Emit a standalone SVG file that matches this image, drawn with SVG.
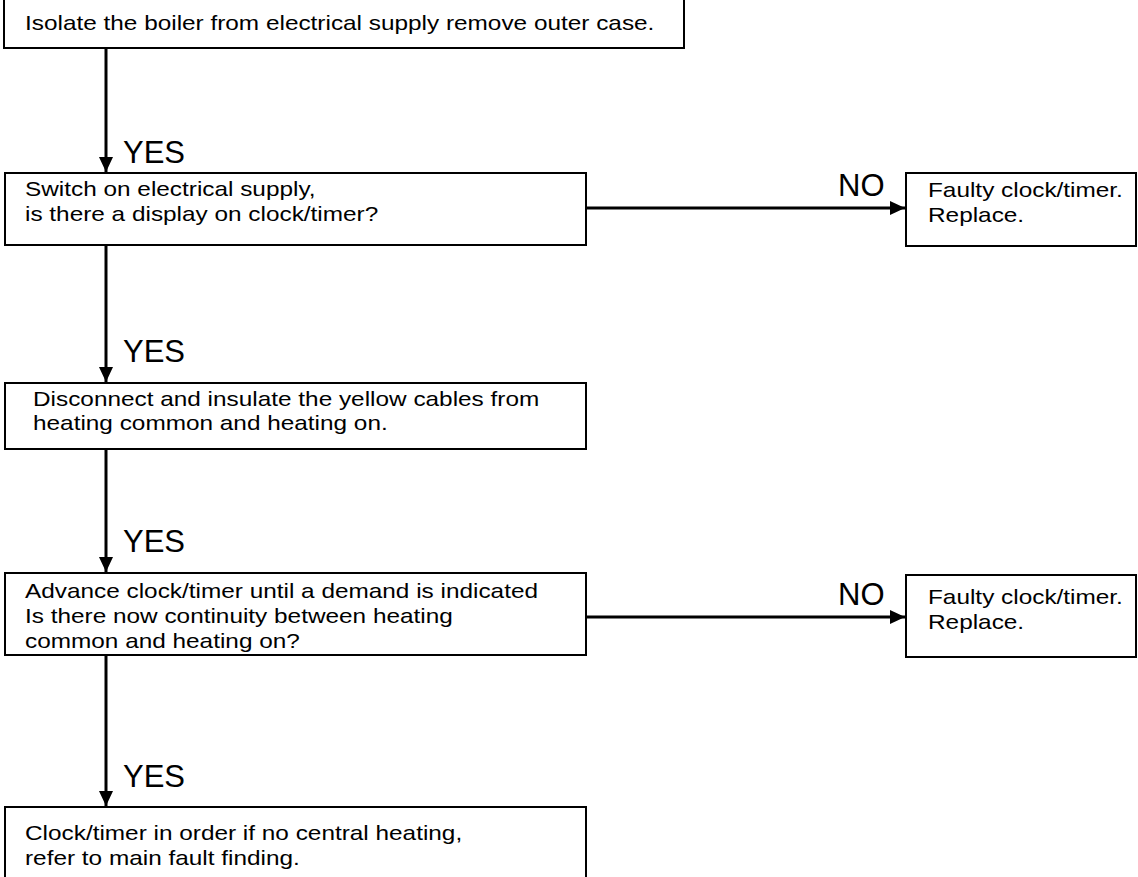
<svg xmlns="http://www.w3.org/2000/svg" width="1138" height="877" viewBox="0 0 1138 877">
<style>
.box{fill:#fff;stroke:#000;stroke-width:2}
.t{font-family:"Liberation Sans",Arial,sans-serif;font-size:21px;fill:#000}
.lbl{font-family:"Liberation Sans",Arial,sans-serif;font-size:31px;fill:#000}
.c{stroke:#000;stroke-width:3;fill:none}
</style>
<defs>
<marker id="ah" markerUnits="userSpaceOnUse" markerWidth="16" markerHeight="14" refX="15" refY="7" orient="auto">
<path d="M0,0 L15,7 L0,14 Z" fill="#000"/>
</marker>
</defs>
<rect width="1138" height="877" fill="#fff"/>
<g id="connectors">
<line class="c" x1="106" y1="48" x2="106" y2="172" marker-end="url(#ah)"/>
<line class="c" x1="106" y1="245" x2="106" y2="382" marker-end="url(#ah)"/>
<line class="c" x1="106" y1="449" x2="106" y2="572" marker-end="url(#ah)"/>
<line class="c" x1="106" y1="655" x2="106" y2="806" marker-end="url(#ah)"/>
<line class="c" x1="586" y1="208" x2="905" y2="208" marker-end="url(#ah)"/>
<line class="c" x1="586" y1="617" x2="905" y2="617" marker-end="url(#ah)"/>
<text class="lbl" x="123" y="163">YES</text>
<text class="lbl" x="123" y="362">YES</text>
<text class="lbl" x="123" y="552">YES</text>
<text class="lbl" x="123" y="787">YES</text>
<text class="lbl" x="838" y="196">NO</text>
<text class="lbl" x="838" y="605">NO</text>
</g>
<g id="n1">
<rect class="box" x="4" y="-2" width="680" height="50"/>
<text class="t" transform="translate(25,30) scale(1.16,1)">Isolate the boiler from electrical supply remove outer case.</text>
</g>
<g id="n2">
<rect class="box" x="5" y="173" width="581" height="72"/>
<text class="t" transform="translate(25,196) scale(1.16,1)"><tspan x="0" y="0">Switch on electrical supply,</tspan><tspan x="0" y="25">is there a display on clock/timer?</tspan></text>
</g>
<g id="n3">
<rect class="box" x="906" y="173" width="230" height="73"/>
<text class="t" transform="translate(928,197) scale(1.16,1)"><tspan x="0" y="0">Faulty clock/timer.</tspan><tspan x="0" y="25">Replace.</tspan></text>
</g>
<g id="n4">
<rect class="box" x="5" y="383" width="581" height="66"/>
<text class="t" transform="translate(33,406) scale(1.16,1)"><tspan x="0" y="0">Disconnect and insulate the yellow cables from</tspan><tspan x="0" y="24">heating common and heating on.</tspan></text>
</g>
<g id="n5">
<rect class="box" x="5" y="573" width="581" height="82"/>
<text class="t" transform="translate(25,598) scale(1.16,1)"><tspan x="0" y="0">Advance clock/timer until a demand is indicated</tspan><tspan x="0" y="25">Is there now continuity between heating</tspan><tspan x="0" y="50">common and heating on?</tspan></text>
</g>
<g id="n6">
<rect class="box" x="906" y="575" width="230" height="82"/>
<text class="t" transform="translate(928,604) scale(1.16,1)"><tspan x="0" y="0">Faulty clock/timer.</tspan><tspan x="0" y="25">Replace.</tspan></text>
</g>
<g id="n7">
<rect class="box" x="5" y="807" width="581" height="75"/>
<text class="t" transform="translate(25,840) scale(1.16,1)"><tspan x="0" y="0">Clock/timer in order if no central heating,</tspan><tspan x="0" y="25">refer to main fault finding.</tspan></text>
</g>
</svg>
